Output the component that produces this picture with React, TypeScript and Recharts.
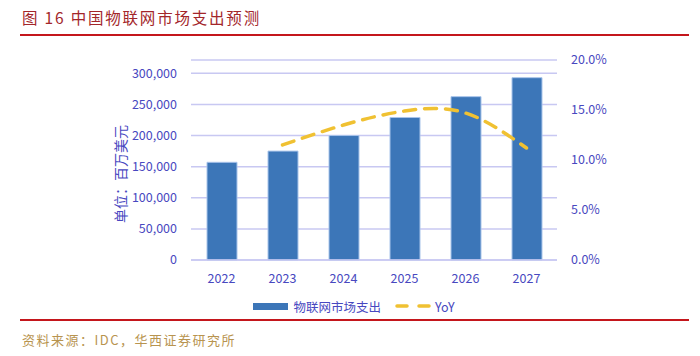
import { ComposedChart, Bar, Line, XAxis, YAxis, CartesianGrid, Legend } from 'recharts';

const years = ['2022', '2023', '2024', '2025', '2026', '2027'];
const spending = [157000, 175000, 200000, 229000, 262500, 293000];
const yoy = [null, 0.115, 0.135, 0.149, 0.147, 0.112];
const leftTicks = [0, 50000, 100000, 150000, 200000, 250000, 300000];
const rightTicks = [0, 0.05, 0.1, 0.15, 0.2];

const data = years.map((year, i) => ({ year, spending: spending[i], yoy: yoy[i] }));

const axisBlue = '#4848c0';
const gridColor = '#c8c8f2';
const barBlue = '#3c76b8';
const yoyGold = '#f0c132';
const cjk = '"Noto Sans CJK SC", "Noto Sans", sans-serif';

function LegendContent() {
  return (
    <div style={{ display: 'flex', alignItems: 'center', justifyContent: 'center', height: 20, fontFamily: cjk, fontSize: 12.5, color: axisBlue }}>
      <span style={{ display: 'inline-block', width: 35, height: 7, background: barBlue, marginRight: 5 }} />
      <span style={{ marginRight: 14 }}>物联网市场支出</span>
      <svg width={36} height={8} style={{ marginRight: 4 }}>
        <line x1={2} y1={4} x2={34} y2={4} stroke={yoyGold} strokeWidth={3.5} strokeDasharray="10 12" strokeLinecap="round" />
      </svg>
      <span>YoY</span>
    </div>
  );
}

function UnitLabel(props: any) {
  const vb = props.viewBox || {};
  const x = 120;
  const y = vb.y + vb.height / 2 + 14;
  return (
    <text x={x} y={y} transform={`rotate(-90 ${x} ${y})`} textAnchor="middle" dominantBaseline="central" fill={axisBlue} fontSize={14} fontFamily={cjk}>
      单位：百万美元
    </text>
  );
}

export default function App() {
  return (
    <div style={{ position: 'absolute', left: 0, top: 0, width: 700, height: 356, background: '#fff', fontFamily: cjk }}>
      <div style={{ position: 'absolute', left: 22, top: 6, fontSize: 15.5, color: '#a3262a', letterSpacing: 1.8 }}>
        图 16 中国物联网市场支出预测
      </div>
      <div style={{ position: 'absolute', left: 20, top: 34, width: 669, height: 2, background: '#c4161c' }} />
      <ComposedChart width={700} height={356} data={data} margin={{ top: 60, right: 83, bottom: 42, left: 131 }}>
        <CartesianGrid yAxisId="left" vertical={false} stroke={gridColor} strokeWidth={1.5} />
        <XAxis
          dataKey="year"
          axisLine={{ stroke: gridColor, strokeWidth: 1.5 }}
          tickLine={false}
          tick={{ fill: axisBlue, fontSize: 12.5, fontFamily: cjk }}
          tickMargin={8}
          height={34}
        />
        <YAxis
          yAxisId="left"
          domain={[0, 321400]}
          ticks={leftTicks}
          interval={0}
          axisLine={false}
          tickLine={false}
          tickMargin={8}
          width={60}
          tick={{ fill: axisBlue, fontSize: 12.5, fontFamily: cjk }}
          tickFormatter={(v: number) => v.toLocaleString('en-US')}
          label={<UnitLabel />}
        />
        <YAxis
          yAxisId="right"
          orientation="right"
          domain={[0, 0.2]}
          ticks={rightTicks}
          interval={0}
          axisLine={false}
          tickLine={false}
          tickMargin={8}
          width={60}
          tick={{ fill: axisBlue, fontSize: 12.5, fontFamily: cjk }}
          tickFormatter={(v: number) => (v * 100).toFixed(1) + '%'}
        />
        <Bar yAxisId="left" dataKey="spending" fill={barBlue} stroke="#a8c4ea" strokeWidth={1} barSize={30} isAnimationActive={false} />
        <Line
          yAxisId="right"
          dataKey="yoy"
          type="natural"
          stroke={yoyGold}
          strokeWidth={3.5}
          strokeDasharray="12 9"
          strokeLinecap="round"
          dot={false}
          activeDot={false}
          isAnimationActive={false}
        />
        <Legend verticalAlign="bottom" content={<LegendContent />} wrapperStyle={{ bottom: 40, left: 0, width: 708 }} />
      </ComposedChart>
      <div style={{ position: 'absolute', left: 20, top: 319, width: 669, height: 2, background: '#c4161c' }} />
      <div style={{ position: 'absolute', left: 22, top: 330, fontSize: 13, color: '#b8944f', letterSpacing: 1.5 }}>
        资料来源：IDC，华西证券研究所
      </div>
    </div>
  );
}
